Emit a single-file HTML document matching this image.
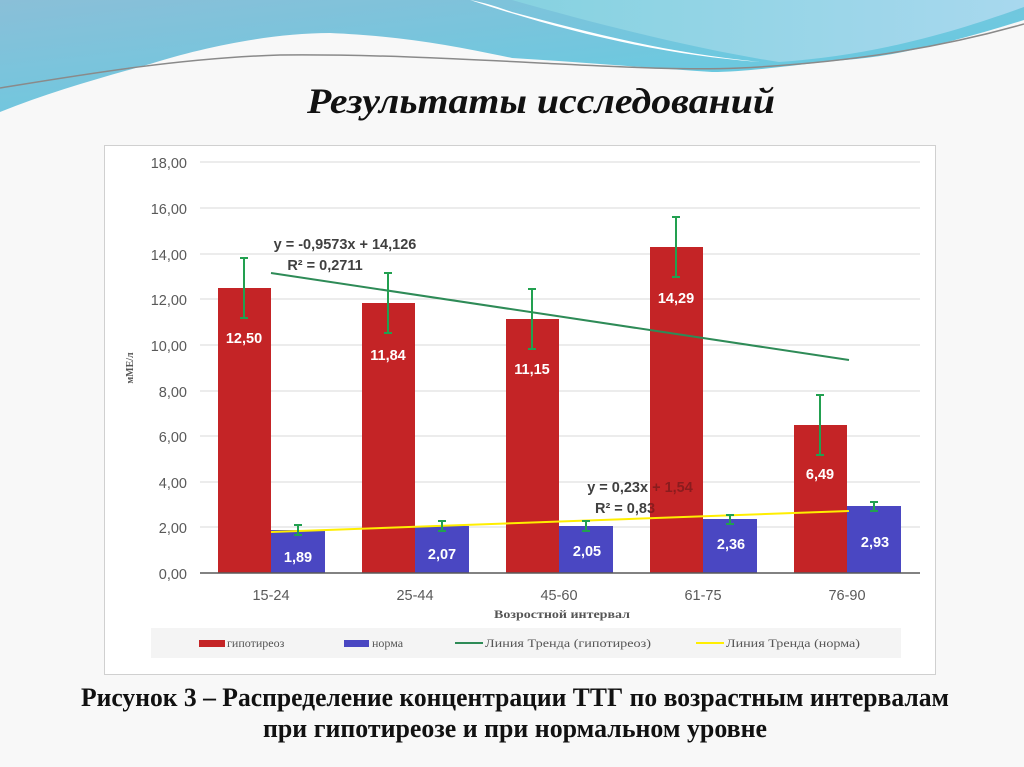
<!DOCTYPE html>
<html><head><meta charset="utf-8"><style>html,body{margin:0;padding:0;background:#fff}svg{display:block}</style></head>
<body>
<svg width="1024" height="767" viewBox="0 0 1024 767" xmlns="http://www.w3.org/2000/svg" font-family="Liberation Sans, sans-serif">
<defs>
<linearGradient id="g1" x1="0" y1="0" x2="1" y2="1"><stop offset="0" stop-color="#8abfd8"/><stop offset="0.6" stop-color="#6ec8df"/><stop offset="1" stop-color="#5ccbe0"/></linearGradient>
<linearGradient id="g2" x1="0" y1="0" x2="1" y2="0"><stop offset="0" stop-color="#86d2e0"/><stop offset="1" stop-color="#a8d8ee"/></linearGradient>
<clipPath id="inbar"><rect x="650" y="247" width="53" height="326"/></clipPath>
</defs>
<rect width="1024" height="767" fill="#f8f8f8"/>
<path d="M0 0 H1024 V20 C960 40 900 56 845 60 C800 64 750 72 712 72 C650 68 580 62 512 58 C450 45 400 36 330 33 C270 33 200 48 150 64 C100 78 50 92 0 112 Z" fill="url(#g1)"/>
<path d="M512 0 H1024 V7 C960 30 880 55 779 62 C700 50 600 25 512 0Z" fill="url(#g2)"/>
<path d="M470 0 C560 30 660 55 760 62 C660 52 580 30 512 12 C495 6 485 3 470 0Z" fill="#ffffff"/>
<path d="M0 88 C80 75 180 58 280 55 C380 54 480 60 560 64 C640 68 690 70 740 68 C860 62 950 45 1024 24" fill="none" stroke="#8a8a8a" stroke-width="1.5"/>
<text x="541" y="113" text-anchor="middle" font-family="Liberation Serif, serif" font-style="italic" font-weight="bold" font-size="36" textLength="468" lengthAdjust="spacingAndGlyphs" fill="#111">Результаты исследований</text>

<rect x="104.5" y="145.5" width="831" height="529" fill="#fff" stroke="#d0d0d0"/>
<g stroke="#d9d9d9" stroke-width="1">
<line x1="200" x2="920" y1="162" y2="162"/><line x1="200" x2="920" y1="208" y2="208"/><line x1="200" x2="920" y1="254" y2="254"/><line x1="200" x2="920" y1="299" y2="299"/><line x1="200" x2="920" y1="345" y2="345"/><line x1="200" x2="920" y1="391" y2="391"/><line x1="200" x2="920" y1="436" y2="436"/><line x1="200" x2="920" y1="482" y2="482"/><line x1="200" x2="920" y1="527" y2="527"/>
</g>
<g font-size="14.5" fill="#595959" text-anchor="end">
<text x="187" y="168">18,00</text><text x="187" y="214">16,00</text><text x="187" y="260">14,00</text><text x="187" y="305">12,00</text><text x="187" y="351">10,00</text><text x="187" y="397">8,00</text><text x="187" y="442">6,00</text><text x="187" y="488">4,00</text><text x="187" y="533">2,00</text><text x="187" y="579">0,00</text>
</g>
<text transform="translate(133 368) rotate(-90)" text-anchor="middle" font-family="Liberation Serif, serif" font-size="10" font-weight="bold" fill="#555">мМЕ/л</text>
<g font-size="14.5" font-weight="bold" fill="#404040" text-anchor="middle">
<text x="345" y="249">y = -0,9573x + 14,126</text><text x="325" y="270">R² = 0,2711</text>
</g>
<g fill="#c42426">
<rect x="218" y="288" width="53" height="285"/><rect x="362" y="303" width="53" height="270"/><rect x="506" y="319" width="53" height="254"/><rect x="650" y="247" width="53" height="326"/><rect x="794" y="425" width="53" height="148"/>
</g>
<g font-size="14.5" font-weight="bold" fill="#404040" text-anchor="middle">
<text x="640" y="492">y = 0,23x + 1,54</text><text x="625" y="513">R² = 0,83</text>
</g>
<g font-size="14.5" font-weight="bold" fill="#8a1c1e" text-anchor="middle" clip-path="url(#inbar)">
<rect x="650" y="247" width="53" height="326" fill="#c42426"/>
<text x="640" y="492">y = 0,23x + 1,54</text><text x="625" y="513">R² = 0,83</text>
</g>
<g fill="#4a47c2">
<rect x="271" y="530" width="54" height="43"/><rect x="415" y="526" width="54" height="47"/><rect x="559" y="526" width="54" height="47"/><rect x="703" y="519" width="54" height="54"/><rect x="847" y="506" width="54" height="67"/>
</g>
<line x1="271" y1="273" x2="849" y2="360" stroke="#2e8b57" stroke-width="2"/>
<line x1="271" y1="532" x2="849" y2="511" stroke="#ffee00" stroke-width="2"/>
<g stroke="#22a050" stroke-width="2">
<path d="M244 258V318M240 258h8M240 318h8"/>
<path d="M388 273V333M384 273h8M384 333h8"/>
<path d="M532 289V349M528 289h8M528 349h8"/>
<path d="M676 217V277M672 217h8M672 277h8"/>
<path d="M820 395V455M816 395h8M816 455h8"/>
<path d="M298 525V535M294 525h8M294 535h8"/>
<path d="M442 521V531M438 521h8M438 531h8"/>
<path d="M586 521V531M582 521h8M582 531h8"/>
<path d="M730 515V524M726 515h8M726 524h8"/>
<path d="M874 502V511M870 502h8M870 511h8"/>
</g>
<g font-size="14.5" font-weight="bold" fill="#fff" text-anchor="middle">
<text x="244" y="343">12,50</text><text x="388" y="360">11,84</text><text x="532" y="374">11,15</text><text x="676" y="303">14,29</text><text x="820" y="479">6,49</text>
<text x="298" y="562">1,89</text><text x="442" y="559">2,07</text><text x="587" y="556">2,05</text><text x="731" y="549">2,36</text><text x="875" y="547">2,93</text>
</g>
<line x1="200" y1="573" x2="920" y2="573" stroke="#595959" stroke-width="1.5"/>
<g font-size="14.5" fill="#595959" text-anchor="middle">
<text x="271" y="600">15-24</text><text x="415" y="600">25-44</text><text x="559" y="600">45-60</text><text x="703" y="600">61-75</text><text x="847" y="600">76-90</text>
</g>
<text x="562" y="618" text-anchor="middle" font-family="Liberation Serif, serif" font-size="12" font-weight="bold" fill="#555" textLength="136" lengthAdjust="spacingAndGlyphs">Возростной интервал</text>
<rect x="151" y="628" width="750" height="30" fill="#f4f4f4"/>
<g font-family="Liberation Serif, serif" font-size="12" fill="#555">
<rect x="199" y="640" width="26" height="7" fill="#c42426"/><text x="227" y="647">гипотиреоз</text>
<rect x="344" y="640" width="25" height="7" fill="#4a47c2"/><text x="372" y="647">норма</text>
<line x1="455" y1="643" x2="483" y2="643" stroke="#2e8b57" stroke-width="2"/><text x="485" y="647" textLength="166" lengthAdjust="spacingAndGlyphs">Линия Тренда (гипотиреоз)</text>
<line x1="696" y1="643" x2="724" y2="643" stroke="#ffee00" stroke-width="2"/><text x="726" y="647" textLength="134" lengthAdjust="spacingAndGlyphs">Линия Тренда (норма)</text>
</g>
<g font-family="Liberation Serif, serif" font-weight="bold" font-size="26" fill="#111" text-anchor="middle">
<text x="515" y="706" textLength="868" lengthAdjust="spacingAndGlyphs">Рисунок 3 – Распределение концентрации ТТГ по возрастным интервалам</text>
<text x="515" y="737" textLength="504" lengthAdjust="spacingAndGlyphs">при гипотиреозе и при нормальном уровне</text>
</g>
</svg>
</body></html>
